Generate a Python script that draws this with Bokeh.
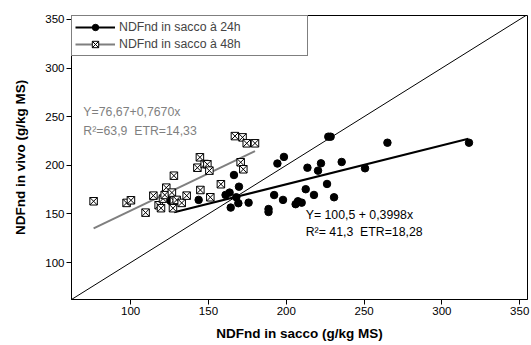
from bokeh.plotting import figure
from bokeh.models import Slope, Legend, LegendItem, Label, FixedTicker
from bokeh.embed import file_html
from bokeh.resources import INLINE

# --- data -------------------------------------------------------------
x24 = [125.7, 143.7, 161.0, 163.6, 164.3, 166.4, 167.9, 169.2, 169.6, 175.8,
       188.6, 188.6, 192.2, 194.3, 198.5, 197.9, 206.0, 207.5, 209.9, 212.5,
       213.6, 217.8, 220.4, 222.3, 226.2, 227.0, 228.5, 230.7, 235.6, 250.6,
       265.0, 317.4]
y24 = [163.3, 164.4, 169.5, 171.9, 156.5, 190.0, 167.1, 161.0, 178.0, 161.6,
       155.0, 152.0, 169.4, 201.8, 208.6, 164.4, 160.0, 163.0, 161.6, 175.4,
       197.5, 169.5, 194.5, 202.0, 180.8, 229.4, 229.4, 167.1, 203.4, 196.9,
       223.2, 223.2]

x48 = [76.2, 97.4, 100.2, 109.6, 114.6, 118.0, 119.5, 120.8, 121.9, 122.9,
       126.5, 127.2, 127.8, 127.8, 129.6, 132.8, 136.0, 142.9, 144.5, 144.8,
       147.6, 149.3, 150.6, 151.2, 158.0, 167.0, 171.9, 170.7, 172.4, 174.6,
       179.9]
y48 = [163.0, 161.3, 164.0, 151.3, 168.8, 158.9, 155.9, 165.7, 169.5, 177.0,
       171.9, 155.9, 163.7, 189.3, 164.4, 161.3, 168.8, 197.5, 208.2, 174.6,
       201.3, 201.0, 194.5, 167.1, 180.5, 230.0, 228.7, 203.1, 195.9, 222.6,
       222.6]

# regression equations (intercept, slope) and fitted x extent
fit24 = (100.5, 0.3998)
fit48 = (76.67, 0.7670)
fit24_x = [128.0, 317.0]
fit48_x = [76.2, 179.9]

series_labels = ["NDFnd in sacco à 24h", "NDFnd in sacco à 48h"]
NB = "\u00a0"
eq24 = ["Y= 100,5 + 0,3998x", "R²= 41,3" + NB + NB + "ETR=18,28"]
eq48 = ["Y=76,67+0,7670x", "R²=63,9" + NB + NB + "ETR=14,33"]
ticks = [100, 150, 200, 250, 300, 350]
x_title = "NDFnd in sacco (g/kg MS)"
y_title = "NDFnd in vivo (g/kg MS)"

FONT = "Liberation Sans"
GRAY = "#7f7f7f"

p = figure(width=531, height=345, x_range=(62, 355), y_range=(62, 354),
           output_backend="svg", toolbar_location=None,
           min_border_left=71, min_border_right=4, min_border_top=15,
           min_border_bottom=46)
p.outline_line_color = "black"
p.outline_line_width = 1
p.xgrid.visible = False
p.ygrid.visible = False
p.background_fill_color = "white"

for ax in (p.xaxis[0], p.yaxis[0]):
    ax.ticker = FixedTicker(ticks=ticks)
    ax.major_tick_out = 5
    ax.major_tick_in = 0
    ax.minor_tick_line_color = None
    ax.axis_line_color = "black"
    ax.major_tick_line_color = "black"
    ax.major_label_text_font = FONT
    ax.major_label_text_font_size = "11.5px"
    ax.major_label_text_color = "black"
    ax.axis_label_text_font = FONT
    ax.axis_label_text_font_size = "13.5px"
    ax.axis_label_text_font_style = "bold"
    ax.axis_label_text_color = "black"
    ax.major_label_standoff = 2

p.xaxis.axis_label = x_title
p.yaxis.axis_label = y_title
p.xaxis.axis_label_standoff = 8
p.yaxis.axis_label_standoff = 14

# diagonal y = x
p.add_layout(Slope(gradient=1, y_intercept=0, line_color="black", line_width=1))

# regression lines
l24 = p.line(fit24_x, [fit24[0] + fit24[1] * v for v in fit24_x],
             line_color="black", line_width=2)
l48 = p.line(fit48_x, [fit48[0] + fit48[1] * v for v in fit48_x],
             line_color=GRAY, line_width=2)

# points
s24 = p.scatter(x24, y24, marker="circle", size=7.5, fill_color="black",
                line_color="black")
s48 = p.scatter(x48, y48, marker="square_x", size=7.5, fill_color="white",
                line_color="black", line_width=1)

legend = Legend(items=[LegendItem(label=series_labels[0], renderers=[l24, s24]),
                       LegendItem(label=series_labels[1], renderers=[l48, s48])],
                location="top_left", margin=0, padding=3, spacing=1,
                glyph_width=40, glyph_height=16, label_height=16,
                label_width=185, label_standoff=4,
                label_text_font=FONT, label_text_font_size="12.3px",
                border_line_color="black", border_line_width=1,
                background_fill_color="white", background_fill_alpha=1)
p.add_layout(legend)

# equation texts
for txt, yy in zip(eq48, [254.7, 235.7]):
    p.add_layout(Label(x=69.6, y=yy, text=txt, text_font=FONT,
                       text_font_size="12.3px", text_color=GRAY,
                       text_baseline="middle"))
for txt, yy in zip(eq24, [149.0, 131.5]):
    p.add_layout(Label(x=212.5, y=yy, text=txt, text_font=FONT,
                       text_font_size="12.3px", text_color="black",
                       text_baseline="middle"))

open("out.html", "w").write(file_html(p, INLINE))
